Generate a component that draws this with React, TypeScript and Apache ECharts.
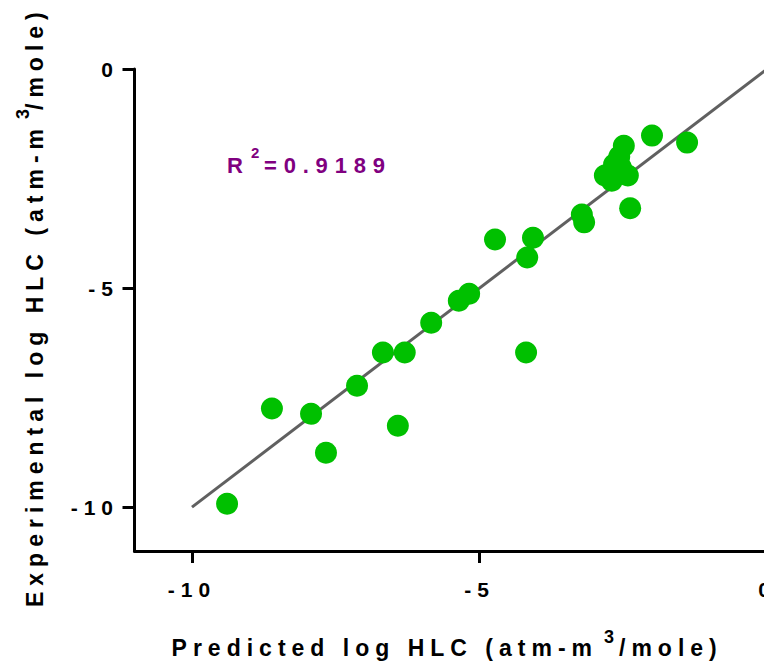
import React, { useEffect, useRef } from "react";
import * as echarts from "echarts";

// Predicted log HLC (x) and experimental log HLC (y)
const predicted = [
  -9.39, -8.61, -7.93, -7.67, -7.13, -6.68, -6.30, -6.42, -5.84, -5.36,
  -5.18, -4.73, -4.17, -4.07, -4.19, -3.22, -3.18, -2.82, -2.70, -2.66,
  -2.57, -2.54, -2.49, -2.42, -2.38, -2.00, -1.39,
];
const experimental = [
  -9.92, -7.75, -7.87, -8.76, -7.23, -6.47, -6.47, -8.14, -5.79, -5.29,
  -5.13, -3.89, -4.30, -3.85, -6.47, -3.32, -3.50, -2.43, -2.55, -2.18,
  -2.00, -2.25, -1.75, -2.43, -3.18, -1.52, -1.68,
];
// identity line
const fitX = [-10, 0];
const fitY = [-10, 0];
const xTicks = [-10, -5, 0];
const yTicks = [-10, -5, 0];
const rSquared = "0.9189";

const FONT = '"Liberation Sans", Arial, sans-serif';

export default function App() {
  const ref = useRef<HTMLDivElement>(null);
  useEffect(() => {
    if (!ref.current) return;
    const chart = echarts.init(ref.current, null, { renderer: "svg" });
    const axisCommon = {
      type: "value" as const,
      min: -11,
      max: 0,
      axisLine: { show: true, onZero: false, lineStyle: { color: "#000", width: 3 } },
      splitLine: { show: false },
    };
    const labelCommon = {
      fontSize: 21,
      fontWeight: "bold" as const,
      color: "#000",
      fontFamily: FONT,
    };
    const txt = (x: number, y: number, text: string, size: number, align: string, fill = "#000", rotation = 0) => ({
      type: "text",
      x,
      y,
      rotation,
      style: {
        text,
        fill,
        font: `bold ${size}px ${FONT}`,
        align,
        textAlign: align,
        verticalAlign: "middle",
        textVerticalAlign: "middle",
      },
    });
    chart.setOption({
      animation: false,
      backgroundColor: "#fff",
      grid: { left: 134.5, top: 69, width: 632.5, height: 482, outerBoundsMode: "none", containLabel: false },
      xAxis: {
        ...axisCommon,
        axisTick: { show: true, customValues: xTicks, length: 12, lineStyle: { color: "#000", width: 3 } },
        axisLabel: { ...labelCommon, customValues: xTicks, margin: 28 },
      },
      yAxis: {
        ...axisCommon,
        axisTick: { show: true, customValues: yTicks, length: 12, lineStyle: { color: "#000", width: 3 } },
        axisLabel: { ...labelCommon, customValues: yTicks, margin: 15.5 },
      },
      series: [
        {
          type: "line",
          data: fitX.map((x, i) => [x, fitY[i]]),
          symbol: "none",
          lineStyle: { color: "#606060", width: 3 },
          z: 1,
        },
        {
          type: "scatter",
          data: predicted.map((x, i) => [x, experimental[i]]),
          symbol: "circle",
          symbolSize: 22,
          itemStyle: { color: "#00c000", opacity: 1 },
          z: 2,
        },
      ],
      graphic: [
        txt(598, 648, "Predicted log HLC (atm-m", 23, "right"),
        txt(604, 637, "3", 18, "left"),
        txt(619, 648, "/mole)", 23, "left"),
        txt(35, 123, "Experimental log HLC (atm-m", 23, "right", "#000", Math.PI / 2),
        txt(23, 119, "3", 18, "left", "#000", Math.PI / 2),
        txt(35, 110, "/mole)", 23, "left", "#000", Math.PI / 2),
        txt(227, 165, "R", 22, "left", "#800080"),
        txt(251, 152, "2", 15, "left", "#800080"),
        txt(264, 165, "=" + rSquared, 22, "left", "#800080"),
      ],
    });
    return () => chart.dispose();
  }, []);
  return (
    <>
      <style>{`.hlc-chart text { letter-spacing: 6px; } .hlc-chart text[fill="#800080"] { letter-spacing: 6.8px; }`}</style>
      <div
        ref={ref}
        className="hlc-chart"
        style={{ position: "absolute", left: 0, top: 0, width: 764, height: 663 }}
      />
    </>
  );
}
